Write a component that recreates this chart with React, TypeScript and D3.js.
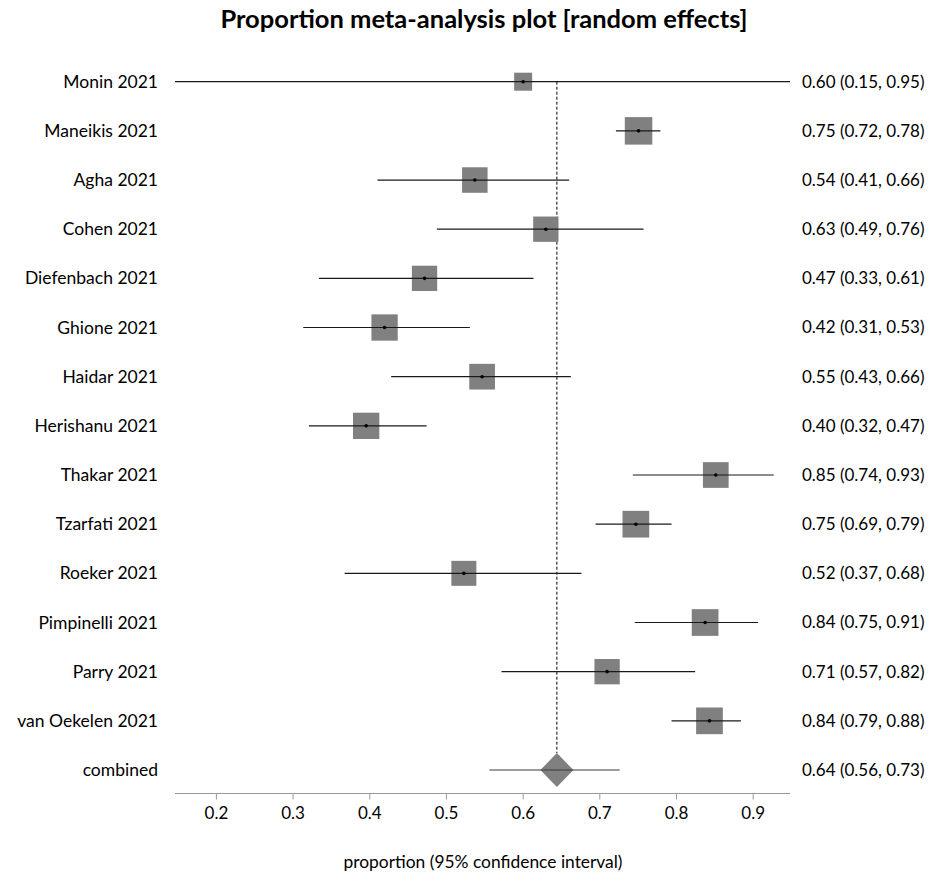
import React from "react";
import * as d3 from "d3";

// Study-level proportions with 95% confidence intervals
const studies = [
  "Monin 2021",
  "Maneikis 2021",
  "Agha 2021",
  "Cohen 2021",
  "Diefenbach 2021",
  "Ghione 2021",
  "Haidar 2021",
  "Herishanu 2021",
  "Thakar 2021",
  "Tzarfati 2021",
  "Roeker 2021",
  "Pimpinelli 2021",
  "Parry 2021",
  "van Oekelen 2021",
];
const estimates = [0.6, 0.7505, 0.537, 0.6296, 0.4714, 0.4193, 0.5465, 0.3953, 0.8512, 0.747, 0.5227, 0.8373, 0.7095, 0.843];
const lower = [0.146, 0.721, 0.41, 0.4875, 0.3337, 0.3132, 0.4279, 0.3206, 0.743, 0.6944, 0.3672, 0.7456, 0.5718, 0.7935];
const upper = [0.948, 0.779, 0.66, 0.757, 0.6135, 0.5305, 0.6622, 0.4741, 0.9268, 0.7935, 0.676, 0.9064, 0.8243, 0.884];
// Random-effects weights (%)
const weights = [3.55, 8.29, 7.13, 7.02, 7.02, 7.59, 7.24, 7.59, 7.24, 7.82, 6.85, 7.82, 7.02, 7.82];

// Pooled estimate
const pooledLabel = "combined";
const pooledEstimate = 0.644;
const pooledLower = 0.556;
const pooledUpper = 0.726;

const tickValues = [0.2, 0.3, 0.4, 0.5, 0.6, 0.7, 0.8, 0.9];

const W = 933;
const H = 874;
const FONT = "Lato, 'Open Sans', sans-serif";

const fmt = d3.format(".2f");

export default function App() {
  const x = d3.scaleLinear().domain([0.146, 0.948]).range([175, 790]);
  const rowLabels = [...studies, pooledLabel];
  const y = d3
    .scalePoint<string>()
    .domain(rowLabels)
    .range([81.7, 770]);
  const size = d3
    .scaleSqrt()
    .domain([0, d3.max(weights) as number])
    .range([0, 27.5]);

  const axisY = 793.5;
  const py = y(pooledLabel) as number;
  const dh = 17;
  const dw = 16.5;
  const px = x(pooledEstimate);
  const diamond = d3.line()([
    [px - dw, py],
    [px, py - dh],
    [px + dw, py],
    [px, py + dh],
  ]) + "Z";

  const labelSize = 17.5;
  const valueSize = 17;

  return (
    <svg
      width={W}
      height={H}
      viewBox={`0 0 ${W} ${H}`}
      style={{ position: "absolute", left: 0, top: 0, background: "#fff" }}
      fontFamily={FONT}
    >
      <text
        x={484}
        y={28}
        textAnchor="middle"
        fontSize={25.5}
        fontWeight="bold"
        fill="#000"
      >
        Proportion meta-analysis plot [random effects]
      </text>

      {/* pooled-estimate reference line */}
      <line
        x1={x(pooledEstimate)}
        x2={x(pooledEstimate)}
        y1={y(studies[0])}
        y2={py - dh}
        stroke="#000"
        strokeWidth={1}
        strokeDasharray="3,2"
      />

      {studies.map((s, i) => {
        const cy = y(s) as number;
        const sz = size(weights[i]);
        const cx = x(estimates[i]);
        return (
          <g key={s}>
            <rect
              x={cx - sz / 2}
              y={cy - sz / 2}
              width={sz}
              height={sz}
              fill="#808080"
            />
            <line
              x1={x(lower[i])}
              x2={x(upper[i])}
              y1={cy}
              y2={cy}
              stroke="#1a1a1a"
              strokeWidth={1.2}
            />
            <circle cx={cx} cy={cy} r={1.8} fill="#000" />
            <text
              x={158}
              y={cy}
              dy="0.35em"
              textAnchor="end"
              fontSize={labelSize}
              fill="#000"
            >
              {s}
            </text>
            <text x={802} y={cy} dy="0.35em" fontSize={valueSize} fill="#000">
              {`${fmt(estimates[i])} (${fmt(lower[i])}, ${fmt(upper[i])})`}
            </text>
          </g>
        );
      })}

      <g>
        <path d={diamond} fill="#808080" />
        <line
          x1={x(pooledLower)}
          x2={x(pooledUpper)}
          y1={py}
          y2={py}
          stroke="#3a3a3a"
          strokeWidth={1.2}
        />
        <text x={158} y={py} dy="0.35em" textAnchor="end" fontSize={labelSize} fill="#000">
          {pooledLabel}
        </text>
        <text x={802} y={py} dy="0.35em" fontSize={valueSize} fill="#000">
          {`${fmt(pooledEstimate)} (${fmt(pooledLower)}, ${fmt(pooledUpper)})`}
        </text>
      </g>

      {/* x axis */}
      <g>
        <line x1={x.range()[0]} x2={x.range()[1]} y1={axisY} y2={axisY} stroke="#999" strokeWidth={1} />
        {tickValues.map((t) => (
          <g key={t}>
            <line x1={x(t)} x2={x(t)} y1={axisY} y2={axisY + 6} stroke="#999" strokeWidth={1} />
            <text x={x(t)} y={axisY + 20} dy="0.35em" textAnchor="middle" fontSize={17} fill="#000">
              {t.toFixed(1)}
            </text>
          </g>
        ))}
        <text x={483} y={862} dy="0.35em" textAnchor="middle" fontSize={17.4} fill="#000">
          proportion (95% confidence interval)
        </text>
      </g>
    </svg>
  );
}
